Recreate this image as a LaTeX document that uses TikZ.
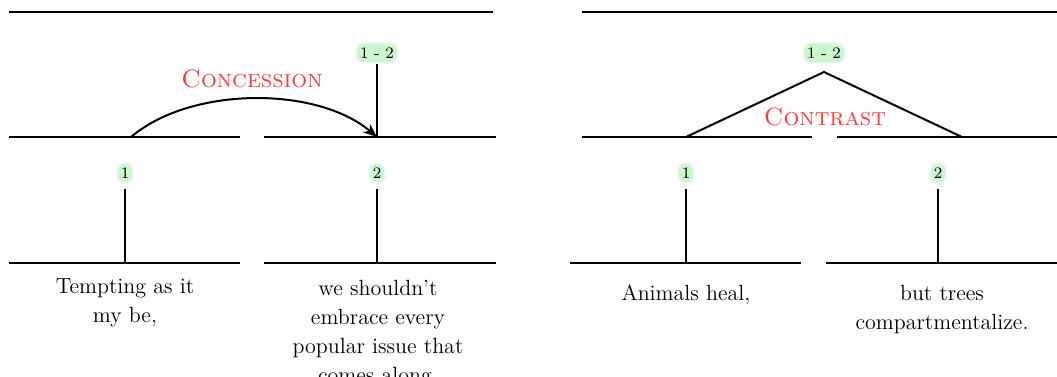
\documentclass[tikz,border=0pt]{standalone}
\usetikzlibrary{arrows.meta}

\definecolor{spangreen}{RGB}{204,246,204}
\definecolor{relred}{RGB}{250,60,60}

\tikzset{
  span/.style={fill=spangreen, draw=blue!4, rounded corners=4pt, inner xsep=2pt,
    inner ysep=2.5pt, font=\fontsize{8}{8}\selectfont},
  edu/.style={anchor=north, inner sep=0pt, align=center,
    font=\fontsize{11}{14.5}\selectfont},
  rel/.style={anchor=base, text=relred, font=\fontsize{12.5}{14}\selectfont\scshape},
}

\begin{document}
\begin{tikzpicture}[x=0.5pt,y=-0.5pt,line width=1pt]
\useasboundingbox (0,0) rectangle (1057,376);

% concession tree
\draw (9,12) -- (493,12);
\draw (9,137) -- (240,137);
\draw (264,137) -- (496,137);
\draw (9,263) -- (240,263);
\draw (264,263) -- (496,263);

\node[span] (c12) at (377,53) {1 - 2};
\node[span] (c1) at (125,173) {1};
\node[span] (c2) at (377,173) {2};
\coordinate (cnuc) at (377,137);
\coordinate (csat) at (131,137);
\coordinate (c1base) at (125,263);
\coordinate (c2base) at (377,263);

\draw (c12) -- (cnuc);
\draw[shorten >=2.5pt] (c1base) -- (c1);
\draw[shorten >=2.5pt] (c2base) -- (c2);
\draw[-{Stealth[length=7pt,width=5.5pt]}] (csat) .. controls (191,86) and (317,86) .. (cnuc);
\node[rel] (conc) at (252,87) {Concession};

\node[edu] (ctext1) at (125,272) {\strut Tempting as it\\my be,};
\node[edu] (ctext2) at (378,274) {\strut we shouldn't\\embrace every\\popular issue that\\comes along.};

% contrast tree
\draw (582,12) -- (1057,12);
\draw (582,137) -- (812,137);
\draw (837,137) -- (1057,137);
\draw (570,263) -- (801,263);
\draw (826,263) -- (1057,263);

\node[span] (k12) at (824,53) {1 - 2};
\node[span] (k1) at (686,173) {1};
\node[span] (k2) at (938,173) {2};
\coordinate (ktop) at (824,72);
\coordinate (kleft) at (686,137);
\coordinate (kright) at (962,137);
\coordinate (k1base) at (686,263);
\coordinate (k2base) at (938,263);

\draw (kleft) -- (ktop) -- (kright);
\draw[shorten >=2.5pt] (k1base) -- (k1);
\draw[shorten >=2.5pt] (k2base) -- (k2);
\node[rel] (cont) at (825,125) {Contrast};

\node[edu] (ktext1) at (686,279) {\strut Animals heal,};
\node[edu] (ktext2) at (942,279) {\strut but trees\\compartmentalize.};

\end{tikzpicture}
\end{document}
